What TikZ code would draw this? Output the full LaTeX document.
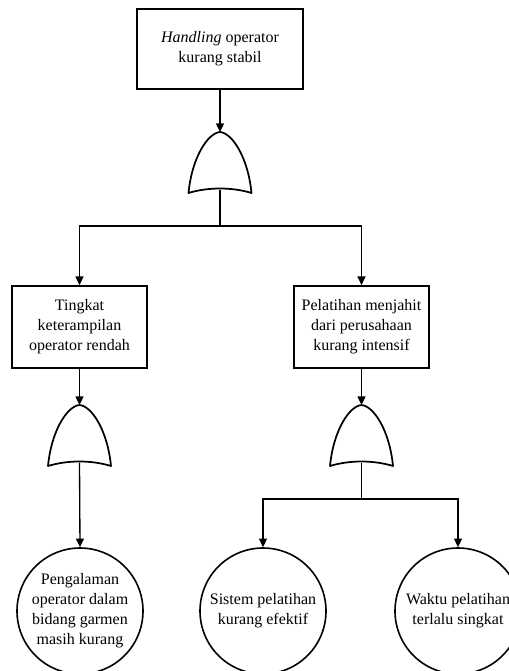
\documentclass[tikz,border=0pt]{standalone}
\usepackage{fontspec}
\setmainfont{Liberation Serif}
\usetikzlibrary{arrows.meta}

\begin{document}
\begin{tikzpicture}[x=0.75pt,y=-0.75pt,
  font=\fontsize{12}{15}\selectfont,
  event/.style={draw, line width=1.3pt, rectangle, align=center,
    minimum width=101.25pt, minimum height=61.5pt, inner sep=0pt},
  basic/.style={draw, line width=1.2pt, circle, align=center,
    minimum size=94.5pt, inner sep=0pt},
  link/.style={line width=1pt},
  arr/.style={link, -{Triangle[width=6pt,length=6.5pt]}},
  orgate/.pic={
    \draw[line width=1.3pt, line join=round]
      (-31.5,61) .. controls (-28,25) and (-12,1) .. (0,0)
      .. controls (12,1) and (28,25) .. (31.5,61)
      .. controls (12,55) and (-12,55) .. (-31.5,61) -- cycle;
    \coordinate (-top) at (0,0);
    \coordinate (-out) at (0,57.5);
  }]
  \path[use as bounding box, clip] (0,0) rectangle (509,671);

  % top event
  \node[event, minimum width=124.5pt, minimum height=60pt] (top) at (220,49)
    {\textit{Handling} operator\\kurang stabil};
  \pic (g1) at (220,132) {orgate};

  % intermediate events
  \node[event] (skill) at (79.5,327)
    {Tingkat\\keterampilan\\operator rendah};
  \node[event] (train) at (361.5,327)
    {Pelatihan menjahit\\dari perusahaan\\kurang intensif};
  \pic (g2) at (79.5,405) {orgate};
  \pic (g3) at (361.5,405) {orgate};

  % basic events
  \node[basic] (exp) at (80,611)
    {Pengalaman\\operator dalam\\bidang garmen\\masih kurang};
  \node[basic] (sys) at (263,611)
    {Sistem pelatihan\\kurang efektif};
  \node[basic] (time) at (458,611)
    {Waktu pelatihan\\terlalu singkat};

  \coordinate (j1) at (220,226);
  \coordinate (j3) at (361.5,499);

  % connectors
  \draw[arr] (top.south) -- (g1-top);
  \draw[link] (g1-out) -- (j1);
  \draw[arr] (j1) -| (skill.north);
  \draw[arr] (j1) -| (train.north);
  \draw[arr] (skill.south) -- (g2-top);
  \draw[arr] (train.south) -- (g3-top);
  \draw[arr] (g2-out) -- (exp.north);
  \draw[link] (g3-out) -- (j3);
  \draw[arr] (j3) -| (sys.north);
  \draw[arr] (j3) -| (time.north);
\end{tikzpicture}
\end{document}
